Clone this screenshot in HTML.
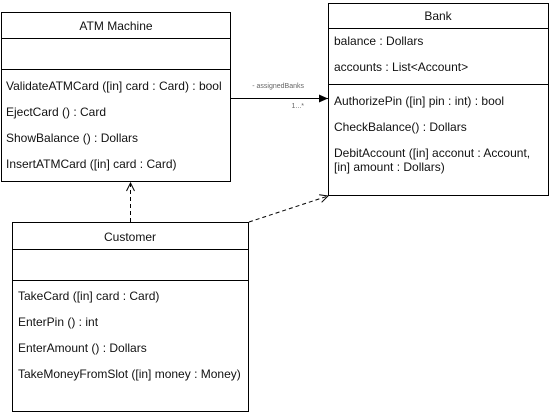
<!DOCTYPE html>
<html><head><style>
body{margin:0;background:#fff;width:551px;height:413px;overflow:hidden}
svg text{font-family:"Liberation Sans",Arial,sans-serif;font-size:12px;fill:#111}
</style></head><body>
<svg width="551" height="413" viewBox="0 0 551 413" xmlns="http://www.w3.org/2000/svg">
<defs>
<marker id="fa" markerWidth="10" markerHeight="10" refX="9" refY="5" orient="auto" markerUnits="userSpaceOnUse"><path d="M0,1 L9,5 L0,9 Z" fill="#000"/></marker>
<marker id="oa" markerWidth="10" markerHeight="10" refX="9" refY="5" orient="auto" markerUnits="userSpaceOnUse"><path d="M1,1 L9,5 L1,9" fill="none" stroke="#000" stroke-width="1"/></marker>
</defs>
<g fill="none" stroke="#000" stroke-width="1">
<rect x="1.5" y="12.5" width="229" height="169"/>
<line x1="1.5" y1="38.5" x2="230.5" y2="38.5"/>
<line x1="1.5" y1="69.5" x2="230.5" y2="69.5"/>
<rect x="328.5" y="3.5" width="220" height="192"/>
<line x1="328.5" y1="28.5" x2="548.5" y2="28.5"/>
<line x1="328.5" y1="84.5" x2="548.5" y2="84.5"/>
<rect x="12.5" y="222.5" width="236" height="189"/>
<line x1="12.5" y1="249.5" x2="248.5" y2="249.5"/>
<line x1="12.5" y1="280.5" x2="248.5" y2="280.5"/>
<line x1="231" y1="98.5" x2="328" y2="98.5" marker-end="url(#fa)"/>
<line x1="130.5" y1="222" x2="130.5" y2="183" stroke-dasharray="4,3" marker-end="url(#oa)"/>
<line x1="249" y1="222" x2="328" y2="196" stroke-dasharray="4,3" marker-end="url(#oa)"/>
</g>
<text x="116" y="30" text-anchor="middle">ATM Machine</text>
<text x="6" y="90">ValidateATMCard ([in] card : Card) : bool</text>
<text x="6" y="116">EjectCard () : Card</text>
<text x="6" y="142">ShowBalance () : Dollars</text>
<text x="6" y="168">InsertATMCard ([in] card : Card)</text>
<text x="438" y="20" text-anchor="middle">Bank</text>
<text x="334" y="45">balance : Dollars</text>
<text x="334" y="71">accounts : List&lt;Account&gt;</text>
<text x="334" y="105">AuthorizePin ([in] pin : int) : bool</text>
<text x="334" y="131">CheckBalance() : Dollars</text>
<text x="334" y="157">DebitAccount ([in] acconut : Account,</text>
<text x="334" y="171">[in] amount : Dollars)</text>
<text x="130" y="241" text-anchor="middle">Customer</text>
<text x="18" y="300">TakeCard ([in] card : Card)</text>
<text x="18" y="326">EnterPin () : int</text>
<text x="18" y="352">EnterAmount () : Dollars</text>
<text x="18" y="378">TakeMoneyFromSlot ([in] money : Money)</text>
<text x="304" y="88" text-anchor="end" style="font-size:7px;fill:#666">- assignedBanks</text>
<text x="304" y="108" text-anchor="end" style="font-size:7px;fill:#666">1...*</text>
</svg>
</body></html>
